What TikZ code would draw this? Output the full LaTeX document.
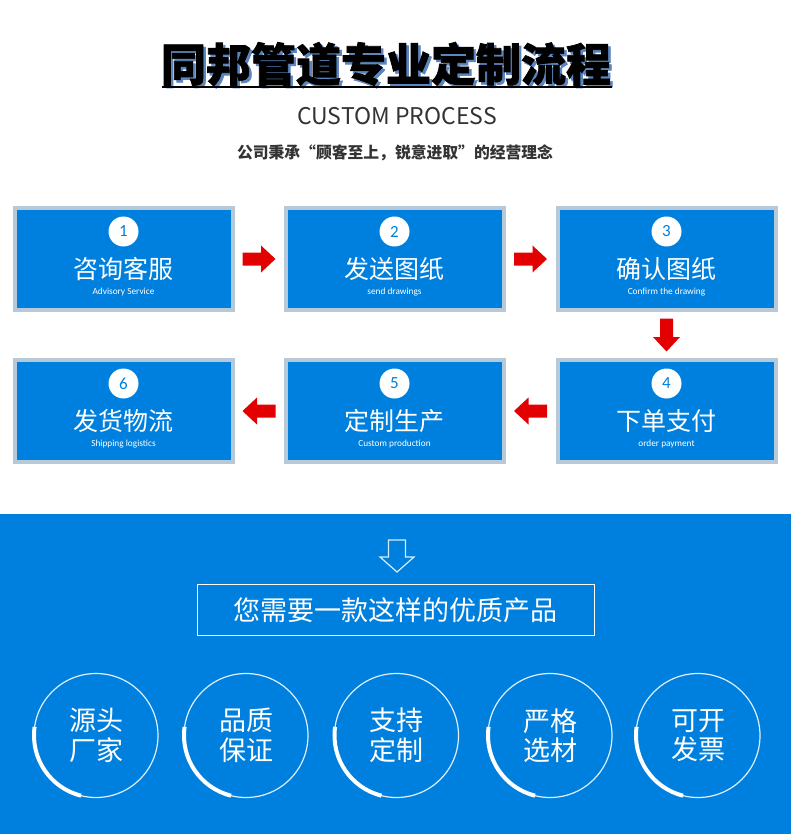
\documentclass[tikz,border=0pt]{standalone}
\usepackage{fontspec}
\setmainfont{Noto Sans CJK SC}
\newfontfamily\titlefont{Noto Sans CJK SC}[BoldFeatures={FakeBold=1.6}]
\newfontfamily\calib{Carlito}
\usetikzlibrary{calc}
\definecolor{boxblue}{RGB}{0,128,222}
\definecolor{bordergray}{RGB}{183,200,214}
\definecolor{arrowred}{RGB}{226,0,0}
\definecolor{shadowblue}{RGB}{92,134,192}
\definecolor{darktext}{RGB}{51,51,51}
\tikzset{
  stepbox/.style={draw=bordergray, line width=4pt, fill=boxblue, minimum width=218pt, minimum height=102pt, inner sep=0pt},
  numcirc/.style={circle, fill=white, minimum size=30pt, inner sep=0pt, text=boxblue, font=\calib\fontsize{17}{17}\selectfont},
  cntext/.style={text=white, inner sep=0pt, font=\fontsize{25}{25}\selectfont},
  entext/.style={text=white, inner sep=0pt, font=\calib\fontsize{9.3}{9.3}\selectfont},
  featcirc/.style={circle, draw=white!88!boxblue, line width=1.2pt, minimum size=124pt, inner sep=0pt, text=white, align=center, font=\fontsize{27}{29.5}\selectfont},
  blockarrow/.pic={\fill[arrowred] (-16.5,-6.5) -- (2,-6.5) -- (2,-13.5) -- (16.5,0) -- (2,13.5) -- (2,6.5) -- (-16.5,6.5) -- cycle;}
}
\begin{document}
\begin{tikzpicture}[x=1pt,y=1pt]
\useasboundingbox (0,0) rectangle (791,-834);
\fill[white] (0,0) rectangle (791,-514);
\fill[boxblue] (0,-514) rectangle (791,-834);

% title
\node[text=shadowblue, inner sep=0pt, font=\titlefont\fontsize{45}{45}\selectfont\bfseries] (titleshadow) at (388.5,-66.5) {同邦管道专业定制流程};
\node[text=black, inner sep=0pt, font=\titlefont\fontsize{45}{45}\selectfont\bfseries] (title) at (386,-64) {同邦管道专业定制流程};
\coordinate (ulA) at (162,-86.7);
\coordinate (ulB) at (612,-86.7);
\draw[black, line width=2pt] (ulA) -- (ulB);
\node[text=darktext, inner sep=0pt, font=\fontsize{23}{23}\selectfont] (sub) at (397,-116) {CUSTOM PROCESS};
\node[text=darktext, inner sep=0pt, font=\fontsize{15.8}{15.8}\selectfont\bfseries] (motto) at (395,-152.5) {公司秉承“顾客至上，锐意进取”的经营理念};

% step boxes
\foreach \n/\x/\y/\cn/\en in {
  1/123.5/-259/咨询客服/Advisory Service,
  2/394.5/-259/发送图纸/send drawings,
  3/666.5/-259/确认图纸/Confirm the drawing,
  4/666.5/-411/下单支付/order payment,
  5/394.5/-411/定制生产/Custom production,
  6/123.5/-411/发货物流/Shipping logistics}{
  \node[stepbox] (b\n) at (\x,\y) {};
  \node[numcirc] (n\n) at ($(b\n.center)+(0,27.5)$) {\n};
  \node[cntext] (c\n) at ($(b\n.center)+(0,-10)$) {\cn};
  \node[entext] (e\n) at ($(b\n.center)+(0,-33)$) {\en};
}

% red arrows
\path ($(b1.east)!0.5!(b2.west)$) pic {blockarrow};
\path ($(b2.east)!0.5!(b3.west)$) pic {blockarrow};
\path ($(b3.south)!0.5!(b4.north)$) pic[rotate=-90] {blockarrow};
\path ($(b4.west)!0.5!(b5.east)$) pic[rotate=180] {blockarrow};
\path ($(b5.west)!0.5!(b6.east)$) pic[rotate=180] {blockarrow};

% hollow arrow
\coordinate (ha) at (397,-556);
\draw[white!85!boxblue, line width=1.2pt, line join=miter]
  ($(ha)+(-8.5,16)$) -- ($(ha)+(8.5,16)$) -- ($(ha)+(8.5,-1)$) -- ($(ha)+(17,-1)$)
  -- ($(ha)+(0,-16)$) -- ($(ha)+(-17,-1)$) -- ($(ha)+(-8.5,-1)$) -- cycle;

% product box
\node[draw=white, line width=1pt, minimum width=397pt, minimum height=51pt, text=white, inner sep=0pt, font=\fontsize{27}{27}\selectfont] (prod) at (395.5,-610) {您需要一款这样的优质产品};

% feature circles
\foreach \i/\x/\t in {1/96/{源头\\厂家}, 2/246/{品质\\保证}, 3/396.5/{支持\\定制}, 4/550/{严格\\选材}, 5/698/{可开\\发票}}{
  \node[featcirc] (f\i) at (\x,-735.5) {\t};
  \draw[white, line width=4pt] ($(f\i.center)+(172:62)$) arc[start angle=172, end angle=256, radius=62];
}
\end{tikzpicture}
\end{document}
